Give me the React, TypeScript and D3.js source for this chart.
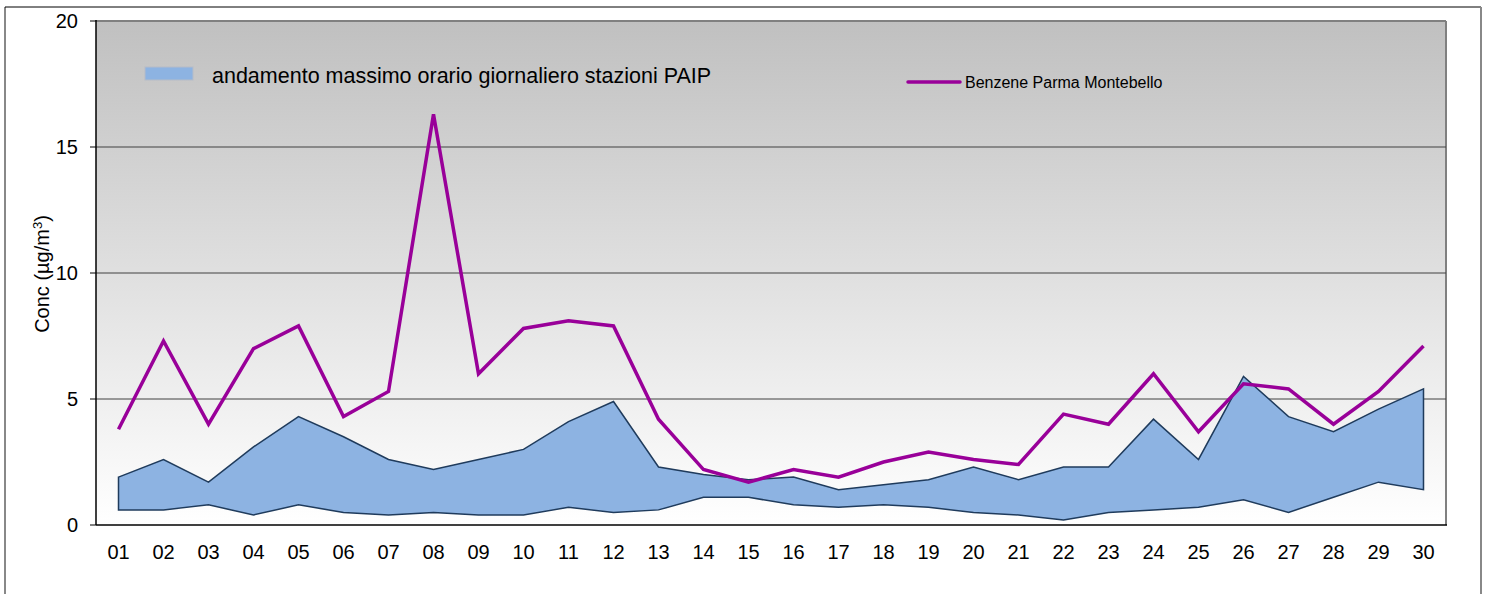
import React from "react";
import * as d3 from "d3";

const days = ["01","02","03","04","05","06","07","08","09","10","11","12","13","14","15","16","17","18","19","20","21","22","23","24","25","26","27","28","29","30"];
const montebello = [3.8,7.3,4.0,7.0,7.9,4.3,5.3,16.3,6.0,7.8,8.1,7.9,4.2,2.2,1.7,2.2,1.9,2.5,2.9,2.6,2.4,4.4,4.0,6.0,3.7,5.6,5.4,4.0,5.3,7.1];
const paipMax = [1.9,2.6,1.7,3.1,4.3,3.5,2.6,2.2,2.6,3.0,4.1,4.9,2.3,2.0,1.8,1.9,1.4,1.6,1.8,2.3,1.8,2.3,2.3,4.2,2.6,5.9,4.3,3.7,4.6,5.4];
const paipMin = [0.6,0.6,0.8,0.4,0.8,0.5,0.4,0.5,0.4,0.4,0.7,0.5,0.6,1.1,1.1,0.8,0.7,0.8,0.7,0.5,0.4,0.2,0.5,0.6,0.7,1.0,0.5,1.1,1.7,1.4];
const yTicks = [0,5,10,15,20];

const W = 1488, H = 594;
const L = 96, R = 1446, T = 21, B = 525;
const FONT = "'Liberation Sans', Arial, sans-serif";

export default function App() {
  const x = d3.scaleBand<string>().domain(days).range([L, R]);
  const cx = (d: string) => (x(d) as number) + x.bandwidth() / 2;
  const y = d3.scaleLinear().domain([0, 20]).range([B, T]);

  const rows = days.map((d, i) => ({ d, lo: paipMin[i], hi: paipMax[i], v: montebello[i] }));
  const area = d3.area<any>().x(r => cx(r.d)).y0(r => y(r.lo)).y1(r => y(r.hi))(rows) as string;
  const line = d3.line<any>().x(r => cx(r.d)).y(r => y(r.v))(rows) as string;

  return (
    <svg width={W} height={H} style={{ position: "absolute", left: 0, top: 0, background: "#fff" }} fontFamily={FONT}>
      <defs>
        <linearGradient id="bg" x1="0" y1="0" x2="0" y2="1">
          <stop offset="0" stopColor="#c0c0c0" />
          <stop offset="1" stopColor="#ffffff" />
        </linearGradient>
      </defs>
      {/* outer frame */}
      <line x1={5} y1={7} x2={5} y2={H} stroke="#888" strokeWidth={2} />
      <line x1={5} y1={7} x2={1481} y2={7} stroke="#000" strokeWidth={1} />
      <line x1={1481} y1={7} x2={1481} y2={H} stroke="#888" strokeWidth={2} />

      {/* plot area */}
      <rect x={L} y={T} width={R - L} height={B - T} fill="url(#bg)" />
      <line x1={L} y1={T} x2={R} y2={T} stroke="#808080" strokeWidth={2} />
      <line x1={R} y1={T} x2={R} y2={B} stroke="#808080" strokeWidth={2} />
      {yTicks.filter(t => t > 0 && t < 20).map(t => (
        <line key={t} x1={L} x2={R} y1={y(t)} y2={y(t)} stroke="#404040" strokeWidth={1} />
      ))}

      {/* area */}
      <path d={area} fill="#8db3e2" stroke="#1f3b5c" strokeWidth={1.5} strokeLinejoin="miter" />
      {/* line */}
      <path d={line} fill="none" stroke="#990099" strokeWidth={3.5} strokeLinejoin="miter" />

      {/* axes */}
      <line x1={L} y1={T - 1} x2={L} y2={B} stroke="#000" strokeWidth={1.5} />
      <line x1={L} y1={B} x2={R + 1} y2={B} stroke="#000" strokeWidth={1.5} />
      {yTicks.map(t => (
        <g key={t}>
          <line x1={L - 6} x2={L} y1={y(t)} y2={y(t)} stroke="#000" strokeWidth={1} />
          <text x={78} y={y(t)} dy="0.35em" textAnchor="end" fontSize={20} fill="#000">{t}</text>
        </g>
      ))}
      {days.map(d => (
        <text key={d} x={cx(d)} y={559} textAnchor="middle" fontSize={20} fill="#000">{d}</text>
      ))}
      <text transform={`translate(49,274) rotate(-90)`} textAnchor="middle" fontSize={20} fill="#000">
        Conc (µg/m<tspan dy={-7} fontSize={13}>3</tspan><tspan dy={7}>)</tspan>
      </text>

      {/* legend */}
      <rect x={145} y={67} width={48} height={13} fill="#8db3e2" stroke="#b5bcc8" strokeWidth={1} />
      <text x={212} y={83} fontSize={21.5} fill="#000">andamento massimo orario giornaliero stazioni PAIP</text>
      <line x1={908} x2={960} y1={82} y2={82} stroke="#990099" strokeWidth={3.5} strokeLinecap="round" />
      <text x={965} y={88} fontSize={16} fill="#000">Benzene Parma Montebello</text>
    </svg>
  );
}
